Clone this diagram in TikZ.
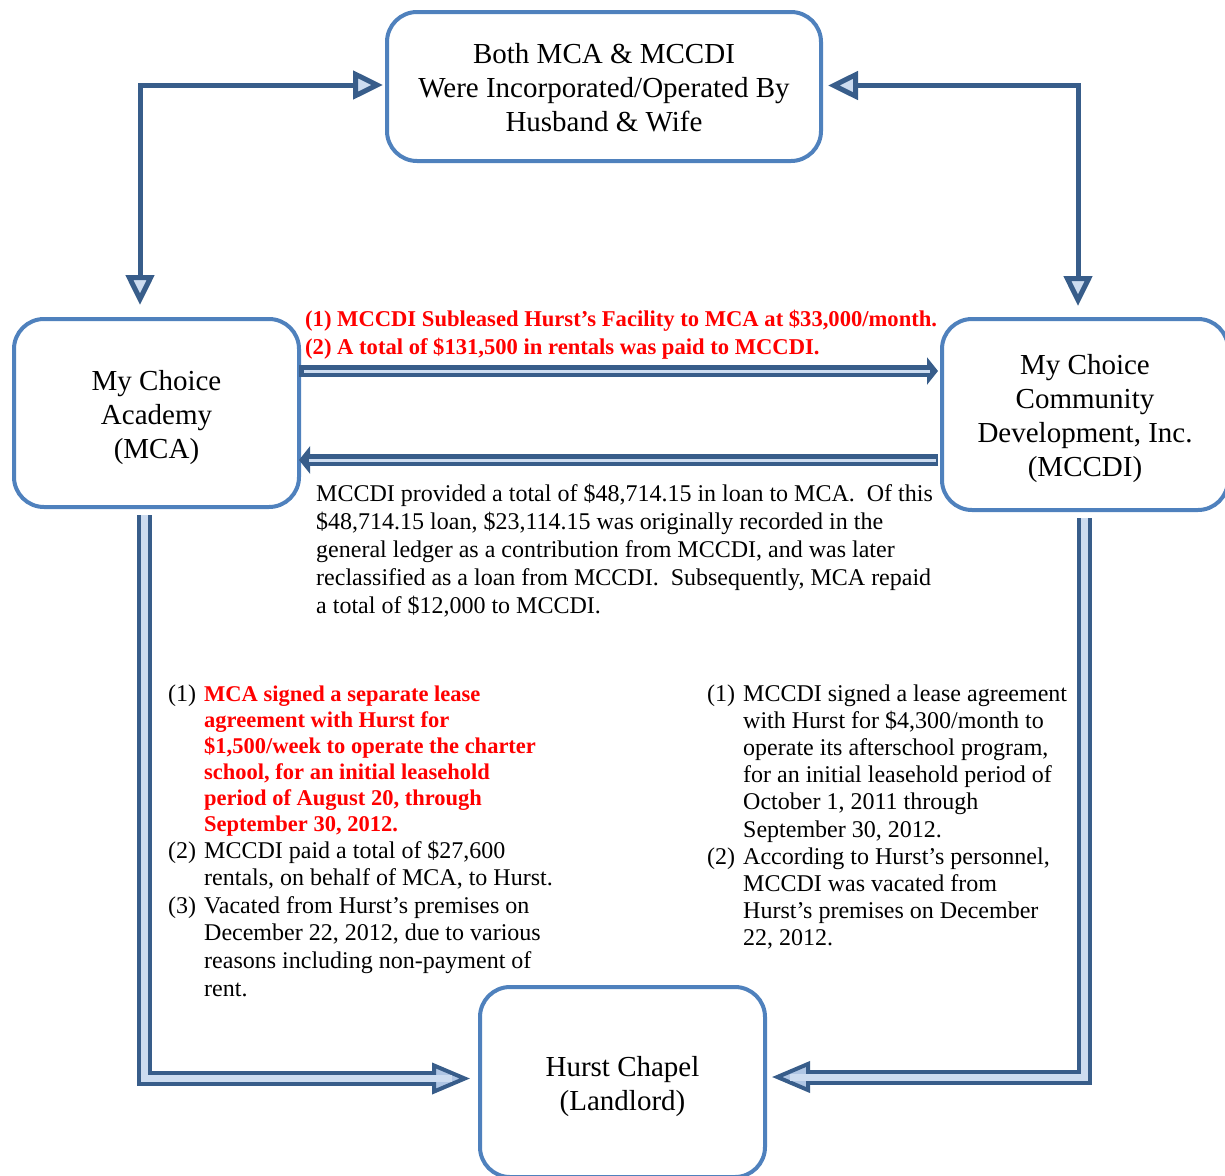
\documentclass[tikz,border=0pt]{standalone}
\usepackage{fontspec}
\setmainfont{Liberation Serif}
\usetikzlibrary{arrows.meta,calc}
\definecolor{boxblue}{RGB}{79,129,189}
\definecolor{dkblue}{RGB}{56,93,138}
\definecolor{ltfill}{RGB}{176,198,228}
\definecolor{ltinner}{RGB}{205,220,240}
\newcommand{\LinesL}[1]{\vtop{\halign{##\hfil\cr#1\crcr}}}
\newcommand{\LinesC}[2][0pt]{\vtop{\halign{\hfil##\hfil\cr#2\crcr}\kern#1}}
\newcommand{\myitem}[1]{\makebox[36pt][l]{#1}}
\newcommand{\myind}{\kern36pt}
\frenchspacing
\tikzset{
  box/.style={draw=boxblue, line width=4pt, rounded corners=30pt, fill=white,
    inner sep=0pt, align=center, font=\fontsize{29}{34}\selectfont},
  thinconn/.style={draw=dkblue, line width=5pt,
    {Triangle[length=30pt,width=28pt,fill=ltinner,line width=5pt]}-{Triangle[length=30pt,width=28pt,fill=ltinner,line width=5pt]}},
  blockdark/.style={draw=dkblue, line width=15pt,
    -{Triangle[length=38pt,width=31pt,line width=4pt,fill=ltfill]}},
  blocklight/.style={draw=ltinner, line width=7pt},
  hdark/.style={draw=dkblue, line width=12pt, -{Triangle[length=11pt,width=27pt]}},
  hlight/.style={draw=ltinner, line width=3pt},
  txt/.style={anchor=base west, inner sep=0pt},
  bodyfont/.style={font=\fontsize{24}{28}\selectfont},
}
\begin{document}
\begin{tikzpicture}[x=1pt,y=-1pt]
\useasboundingbox (0,0) rectangle (1225,1175);
\clip (0,0) rectangle (1225,1175);

% boxes
\node[box, minimum width=434pt, minimum height=149pt] (top) at (604,86.5)
  {\LinesC[-2pt]{Both MCA \& MCCDI\cr Were Incorporated/Operated By\cr Husband \& Wife}};
\node[box, minimum width=285pt, minimum height=188pt] (mca) at (156.5,413)
  {\LinesC[-9pt]{My Choice\cr Academy\cr (MCA)}};
\node[box, minimum width=286pt, minimum height=191pt] (mccdi) at (1085,414.5)
  {\LinesC[-8pt]{My Choice\cr Community\cr Development, Inc.\cr (MCCDI)}};
\node[box, minimum width=285pt, minimum height=190pt] (hurst) at (622.5,1082)
  {\LinesC[-9pt]{Hurst Chapel\cr (Landlord)}};

% helper coordinates
\coordinate (cl) at (140,85);
\coordinate (cr) at (1078,85.5);
\coordinate (a1) at (0,371);
\coordinate (a2) at (0,460);
\coordinate (bl) at (144.5,1078.5);
\coordinate (br) at (1084,1077);

% top connectors
\draw[thinconn, shorten <=2pt, shorten >=12pt] (top.west |- cl) -- (cl) -- (cl |- mca.north);
\draw[thinconn, shorten <=5pt, shorten >=11pt] (top.east |- cr) -- (cr) -- (cr |- mccdi.north);

% horizontal arrows
\draw[hdark, shorten <=-2pt, shorten >=2pt] (mca.east |- a1) -- (mccdi.west |- a1);
\draw[hlight, shorten <=3pt, shorten >=10pt] (mca.east |- a1) -- (mccdi.west |- a1);
\draw[hdark, shorten <=2pt, shorten >=-2pt] (mccdi.west |- a2) -- (mca.east |- a2);
\draw[hlight, shorten <=4pt, shorten >=8pt] (mccdi.west |- a2) -- (mca.east |- a2);

% bottom block arrows
\draw[blockdark, shorten <=6pt, shorten >=8pt] (mca.south -| bl) -- (bl) -- (hurst.west |- bl);
\draw[blocklight, shorten <=6pt, shorten >=26pt] (mca.south -| bl) -- (bl) -- (hurst.west |- bl);
\draw[blockdark, shorten <=6pt, shorten >=5pt] (mccdi.south -| br) -- (br) -- (hurst.east |- br);
\draw[blocklight, shorten <=6pt, shorten >=23pt] (mccdi.south -| br) -- (br) -- (hurst.east |- br);

% texts
\node[txt, text=red, font=\fontsize{22.6}{28}\selectfont\bfseries] (sublease) at (305,326)
  {\LinesL{(1) MCCDI Subleased Hurst’s Facility to MCA at \$33,000/month.\cr
   (2) A total of \$131,500 in rentals was paid to MCCDI.}};

\node[txt, bodyfont] (loan) at (316,501)
  {\LinesL{MCCDI provided a total of \$48,714.15 in loan to MCA.\ \ Of this\cr
   \$48,714.15 loan, \$23,114.15 was originally recorded in the\cr
   general ledger as a contribution from MCCDI, and was later\cr
   reclassified as a loan from MCCDI.\ \ Subsequently, MCA repaid\cr
   a total of \$12,000 to MCCDI.}};

\node[txt, text=red, font=\fontsize{22.5}{26}\selectfont\bfseries] (mcalease) at (168,701)
  {\LinesL{\myitem{\fontsize{24}{28}\selectfont\mdseries\color{black}(1)}MCA signed a separate lease\cr
   \myind agreement with Hurst for\cr
   \myind \$1,500/week to operate the charter\cr
   \myind school, for an initial leasehold\cr
   \myind period of August 20, through\cr
   \myind September 30, 2012.}};

\node[txt, font=\fontsize{24}{27.6}\selectfont] (mcapaid) at (168,858)
  {\LinesL{\myitem{(2)}MCCDI paid a total of \$27,600\cr
   \myind rentals, on behalf of MCA, to Hurst.\cr
   \myitem{(3)}Vacated from Hurst’s premises on\cr
   \myind December 22, 2012, due to various\cr
   \myind reasons including non-payment of\cr
   \myind rent.}};

\node[txt, font=\fontsize{24}{27.2}\selectfont] (mccdilease) at (707,701)
  {\LinesL{\myitem{(1)}MCCDI signed a lease agreement\cr
   \myind with Hurst for \$4,300/month to\cr
   \myind operate its afterschool program,\cr
   \myind for an initial leasehold period of\cr
   \myind October 1, 2011 through\cr
   \myind September 30, 2012.\cr
   \myitem{(2)}According to Hurst’s personnel,\cr
   \myind MCCDI was vacated from\cr
   \myind Hurst’s premises on December\cr
   \myind 22, 2012.}};
\end{tikzpicture}
\end{document}
